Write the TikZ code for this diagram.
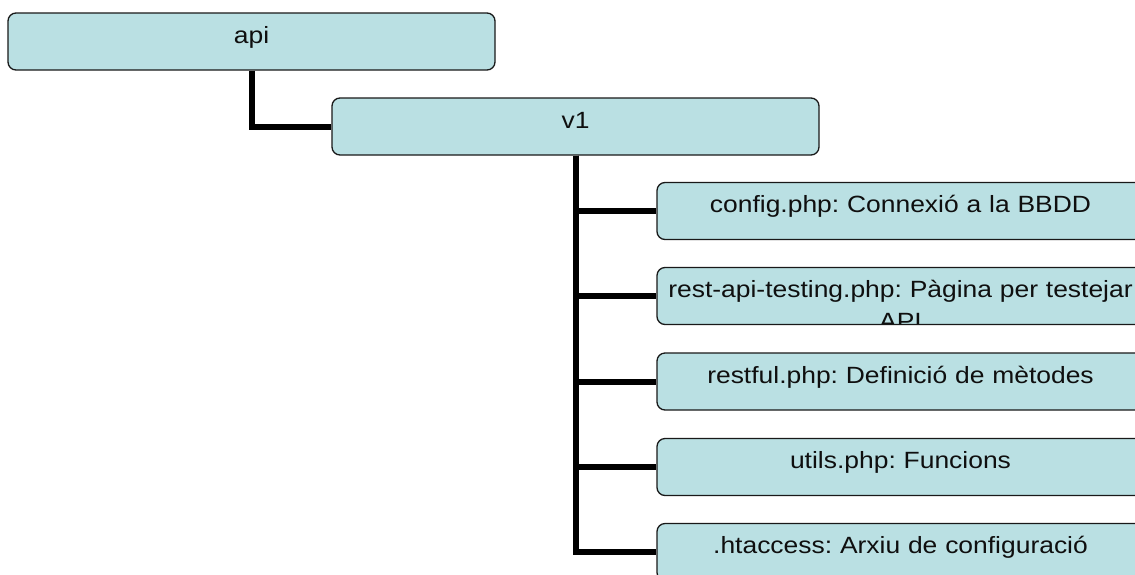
\documentclass[tikz,border=0pt]{standalone}
\usepackage{fontspec}
\newfontfamily\boxfont[FakeStretch=1.125]{Liberation Sans}
\definecolor{boxfill}{RGB}{186,224,227}
\definecolor{boxedge}{RGB}{25,25,25}
\definecolor{boxtext}{RGB}{15,15,15}
\frenchspacing
\tikzset{
  dirbox/.style={draw=boxedge, fill=boxfill, line width=1.3pt, rounded corners=8pt,
    minimum width=487pt, minimum height=57pt,
    path picture={\node[text width=540pt, align=center, anchor=base, inner sep=0pt, text=boxtext,
      font=\boxfont\fontsize{23.5}{32}\selectfont] at ([yshift=-1.5pt]path picture bounding box.center) {#1};}},
  link/.style={line width=6pt},
}
\begin{document}
\begin{tikzpicture}[x=1pt,y=-1pt]
    \useasboundingbox (0,0) rectangle (1135,574);
    \clip (0,0) rectangle (1135,574);

    \node[dirbox={api}] (api) at (251.5, 41.5) {};
    \node[dirbox={v1}] (v1) at (575.5, 126.5) {};

    % files inside v1
    \node[dirbox={config.php: Connexió a la BBDD}] (config) at (900.5, 211) {};
    \node[dirbox={rest-api-testing.php: Pàgina per testejar\\API}] (rest) at (900.5, 296) {};
    \node[dirbox={restful.php: Definició de mètodes}] (restful) at (900.5, 381.5) {};
    \node[dirbox={utils.php: Funcions}] (utils) at (900.5, 467) {};
    \node[dirbox={.htaccess: Arxiu de configuració}] (htaccess) at (900.5, 552) {};

    \draw[link] (api.south) |- (v1.west);
    \draw[link] (v1.south) |- (config.west);
    \draw[link] (v1.south) |- (rest.west);
    \draw[link] (v1.south) |- (restful.west);
    \draw[link] (v1.south) |- (utils.west);
    \draw[link] (v1.south) |- (htaccess.west);
\end{tikzpicture}
\end{document}
